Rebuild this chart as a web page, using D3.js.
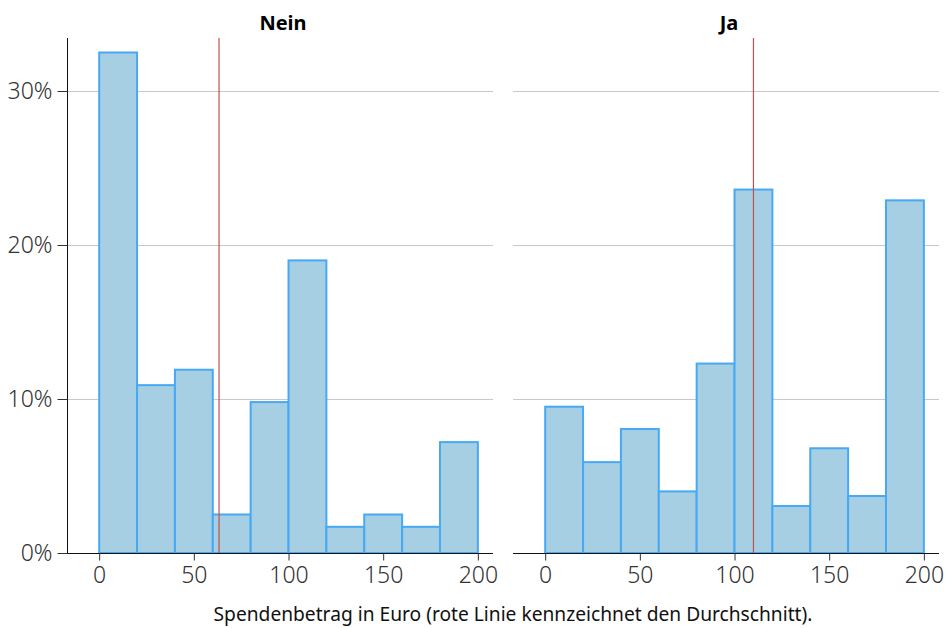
<!DOCTYPE html>
<html>
<head>
<meta charset="utf-8">
<script src="https://cdn.jsdelivr.net/npm/d3@7"></script>
<style>
body { margin: 0; background: #fff; }
svg text { font-family: "Noto Sans", "Open Sans", sans-serif; }
.tick text { fill: #333; font-size: 23px; font-weight: 300; }
</style>
</head>
<body>
<div id="container"></div>
<script>
// data (share of donors per 20-euro bin, in %)
var groups = ["Nein", "Ja"];
var binStarts = [0, 20, 40, 60, 80, 100, 120, 140, 160, 180];
var binWidth = 20;
var neinValues = [32.5, 10.9, 11.9, 2.5, 9.8, 19.0, 1.7, 2.5, 1.7, 7.2];
var jaValues = [9.5, 5.9, 8.05, 4.0, 12.3, 23.6, 3.05, 6.8, 3.7, 22.9];
var means = [63.3, 110];
var yTicks = [0, 10, 20, 30];
var xTicks = [0, 50, 100, 150, 200];

var series = [neinValues, jaValues];

var W = 948, H = 628;
var plotTop = 38, plotBottom = 553;
var panels = [{x0: 67, x1: 493}, {x0: 513, x1: 939}];

var svg = d3.select("#container").append("svg")
	.attr("width", W)
	.attr("height", H)

var y = d3.scaleLinear()
	.domain([0, 100])
	.range([plotBottom, plotBottom - 1540]);

groups.forEach(function(name, i) {
	var p = panels[i];
	var x = d3.scaleLinear()
		.domain([-17, 208])
		.range([p.x0, p.x1]);

	var g = svg.append("g");

	// grid lines
	g.selectAll(".grid")
		.data(yTicks.filter(function(d) { return d > 0; }))
		.enter().append("line")
		.attr("x1", p.x0)
		.attr("x2", p.x1)
		.attr("y1", function(d) { return y(d) + 0.5; })
		.attr("y2", function(d) { return y(d) + 0.5; })
		.style("stroke", "#c8c8c8")
		.style("stroke-width", 1);

	// bars
	g.selectAll(".bar")
		.data(series[i].map(function(v, k) { return {start: binStarts[k], value: v}; }))
		.enter().append("rect")
		.attr("x", function(d) { return x(d.start); })
		.attr("width", function(d) { return x(d.start + binWidth) - x(d.start); })
		.attr("y", function(d) { return y(d.value); })
		.attr("height", function(d) { return y(0) - y(d.value); })
		.style("fill", "#a6cfe3")
		.style("stroke", "#47a9f3")
		.style("stroke-width", 2);

	// mean line
	g.append("line")
		.attr("x1", x(means[i]))
		.attr("x2", x(means[i]))
		.attr("y1", plotTop)
		.attr("y2", plotBottom)
		.style("stroke", "#c0504d")
		.style("stroke-width", 1.2);

	// x axis
	var xAxis = g.append("g")
		.attr("transform", "translate(0," + (plotBottom + 0.5) + ")")
		.call(d3.axisBottom(x).tickValues(xTicks).tickSize(7).tickPadding(6));
	xAxis.select(".domain").attr("d", "M" + p.x0 + ",0H" + p.x1).style("stroke", "#111");
	xAxis.selectAll(".tick line").style("stroke", "#333");

	// title
	svg.append("text")
		.attr("x", (p.x0 + p.x1) / 2 + 3)
		.attr("y", 30)
		.attr("text-anchor", "middle")
		.style("font-size", "20px")
		.style("font-weight", "bold")
		.text(name);

	if (i === 0) {
		var yAxis = g.append("g")
			.attr("transform", "translate(" + (p.x0 + 0.5) + ",0)")
			.call(d3.axisLeft(y).tickValues(yTicks).tickSize(10).tickPadding(5)
				.tickFormat(function(d) { return d + "%"; }));
		yAxis.select(".domain").attr("d", "M0," + plotTop + "V" + plotBottom).style("stroke", "#111");
		yAxis.selectAll(".tick line").style("stroke", "#333");
	}
});

svg.append("text")
	.attr("x", 513)
	.attr("y", 621)
	.attr("text-anchor", "middle")
	.style("font-size", "19.2px")
	.style("fill", "#111")
	.text("Spendenbetrag in Euro (rote Linie kennzeichnet den Durchschnitt).");
</script>
</body>
</html>
